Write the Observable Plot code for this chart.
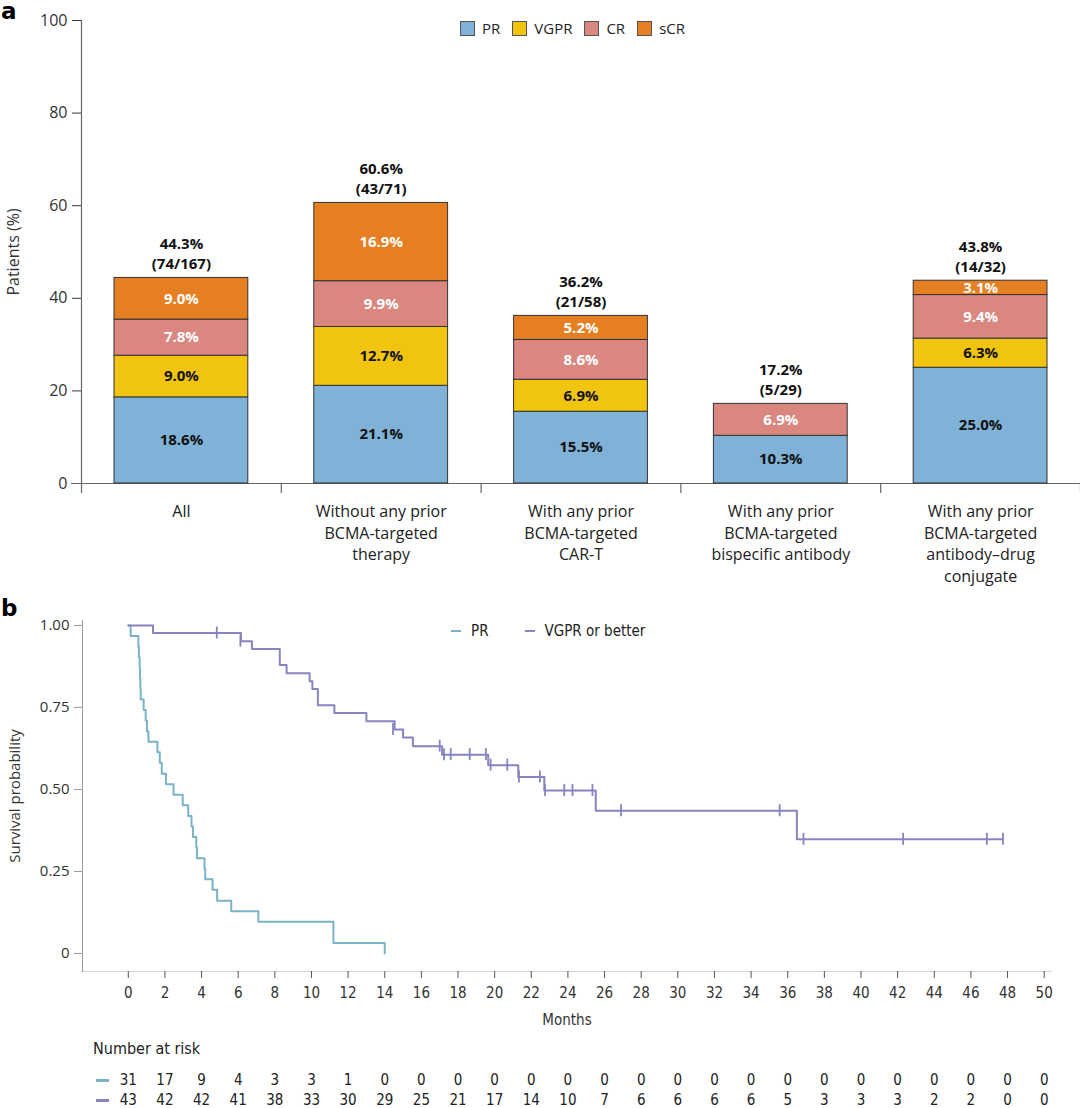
<!DOCTYPE html>
<html><head><meta charset="utf-8">
<script src="https://cdn.jsdelivr.net/npm/d3@7"></script>
<script src="https://cdn.jsdelivr.net/npm/@observablehq/plot@0.6"></script>
<style>
body{margin:0;background:#fff;width:1080px;height:1108px;position:relative;overflow:hidden;font-family:"Open Sans",sans-serif;color:#222;}
.abs{position:absolute;}
.abs svg{display:block;overflow:visible;}
.plab{font-family:"DejaVu Sans",sans-serif;font-weight:bold;font-size:23px;line-height:23px;color:#000;}
.lega{display:flex;align-items:center;font-size:15px;line-height:18px;}
.lega span.sw{display:inline-block;width:13px;height:13px;border:1px solid #555;margin-right:7px;}
.lega span.tx{margin-right:12px;}
.narrow{font-family:"Liberation Sans Narrow","DejaVu Sans Condensed","Roboto Condensed",Roboto,sans-serif;}
.legb{display:flex;align-items:center;font-size:15px;line-height:18px;}
.legb span.ln{display:inline-block;width:10px;height:0;border-top:2px solid;margin-right:10px;}
.legb span.tx{margin-right:36px;}
</style></head><body>
<div class="abs plab" style="left:1px;top:0px">a</div>
<div class="abs plab" style="left:1px;top:597px">b</div>
<div id="a" class="abs" style="left:0;top:0"></div>
<div id="lega" class="abs lega" style="left:460px;top:19px"></div>
<div id="b" class="abs" style="left:0;top:600px"></div>
<div id="legb" class="abs legb narrow" style="left:451px;top:622px"></div>
<div class="abs narrow" style="left:93px;top:1039px;font-size:16px;line-height:20px;">Number at risk</div>
<div class="abs" style="left:96px;top:1079px;width:13px;border-top:3px solid #7ab3c8"></div>
<div class="abs" style="left:96px;top:1099px;width:13px;border-top:3px solid #8884c0"></div>
<div id="risk" class="abs" style="left:0;top:1060px"></div>
<script>
// ---------- Panel a data ----------
const categories = ["All", "Without any prior\nBCMA-targeted\ntherapy", "With any prior\nBCMA-targeted\nCAR-T", "With any prior\nBCMA-targeted\nbispecific antibody", "With any prior\nBCMA-targeted\nantibody–drug\nconjugate"];
const responses = ["PR", "VGPR", "CR", "sCR"];
const prValues = [18.6, 21.1, 15.5, 10.3, 25.0];
const vgprValues = [9.0, 12.7, 6.9, 0, 6.3];
const crValues = [7.8, 9.9, 8.6, 6.9, 9.4];
const scrValues = [9.0, 16.9, 5.2, 0, 3.1];
const totalLabels = ["44.3%\n(74/167)", "60.6%\n(43/71)", "36.2%\n(21/58)", "17.2%\n(5/29)", "43.8%\n(14/32)"];
const responseColors = ["#7fb2d6", "#f1c40f", "#da8780", "#e67e22"];
const patientTicks = [0, 20, 40, 60, 80, 100];

// ---------- Panel b data ----------
const monthTicks = [0,2,4,6,8,10,12,14,16,18,20,22,24,26,28,30,32,34,36,38,40,42,44,46,48,50];
const survTicks = [0, 0.25, 0.5, 0.75, 1];
const groups = ["PR", "VGPR or better"];
const groupColors = ["#7ab3c8", "#8884c0"];
// PR step curve (time in months, survival after step)
const prTimes = [0, 0.13, 0.55, 0.58, 0.62, 0.64, 0.66, 0.68, 0.84, 0.95, 1.02, 1.10, 1.59, 1.72, 1.83, 2.06, 2.47, 2.97, 3.27, 3.45, 3.53, 3.71, 3.75, 4.16, 4.20, 4.60, 4.85, 5.62, 7.10, 11.20, 14.00];
const prSurv  = [1, 0.968, 0.935, 0.903, 0.871, 0.839, 0.806, 0.774, 0.742, 0.710, 0.677, 0.645, 0.613, 0.581, 0.548, 0.516, 0.484, 0.452, 0.419, 0.387, 0.355, 0.323, 0.290, 0.258, 0.226, 0.194, 0.161, 0.129, 0.097, 0.032, 0];
// VGPR or better step curve
const vgprTimes = [0, 1.35, 6.15, 6.75, 8.27, 8.64, 9.90, 10.05, 10.35, 11.25, 13.0, 14.54, 15.0, 15.54, 17.13, 19.65, 21.29, 22.71, 25.52, 36.5, 47.75];
const vgprSurv  = [1, 0.977, 0.952, 0.928, 0.879, 0.854, 0.830, 0.806, 0.757, 0.733, 0.708, 0.683, 0.658, 0.632, 0.606, 0.574, 0.538, 0.497, 0.435, 0.348, 0.348];
// censor marks
const censorTimes = [4.83, 6.12, 14.45, 17.0, 17.24, 17.6, 18.64, 19.52, 19.78, 20.69, 21.33, 22.47, 22.75, 23.8, 24.25, 25.34, 26.9, 35.56, 36.86, 42.3, 46.87, 47.75];
const censorSurv  = [0.977, 0.952, 0.683, 0.632, 0.606, 0.606, 0.606, 0.606, 0.574, 0.574, 0.538, 0.538, 0.497, 0.497, 0.497, 0.497, 0.435, 0.435, 0.348, 0.348, 0.348, 0.348];
// number at risk
const prRisk   = [31,17,9,4,3,3,1,0,0,0,0,0,0,0,0,0,0,0,0,0,0,0,0,0,0,0];
const vgprRisk = [43,42,42,41,38,33,30,29,25,21,17,14,10,7,6,6,6,6,5,3,3,3,2,2,0,0];

// ---------- Panel a ----------
const valueSets = [prValues, vgprValues, crValues, scrValues];
const segments = [];
const totals = [];
categories.forEach((c, i) => {
  let acc = 0;
  valueSets.forEach((vals, k) => {
    const v = vals[i];
    segments.push({i, cx: i + 0.5, x1: i, x2: i + 1, type: responses[k], v, y1: acc, y2: acc + v});
    acc += v;
  });
  totals.push({i, cx: i + 0.5, top: acc, label: totalLabels[i]});
});
const catData = categories.map((c, i) => ({c, cx: i + 0.5}));
const fontA = "'Open Sans', sans-serif";

const plotA = Plot.plot({
  width: 1080, height: 600,
  marginLeft: 81, marginRight: 0, marginTop: 20, marginBottom: 117,
  style: {fontFamily: fontA, fontSize: "16px", color: "#333", background: "transparent"},
  x: {domain: [0, 5], axis: null},
  y: {domain: [0, 100], ticks: patientTicks, tickSize: 9, tickPadding: 5,
      label: "Patients (%)", labelAnchor: "center", labelArrow: "none", labelOffset: 74},
  color: {domain: responses, range: responseColors},
  marks: [
    Plot.ruleY([0], {insetLeft: -10, stroke: "#666", strokeWidth: 1.2}),
    Plot.ruleX([0], {y1: 100, y2: 0, insetBottom: -10, stroke: "#666", strokeWidth: 1.2}),
    Plot.ruleX([1, 2, 3, 4, 5], {y1: 0, y2: 0, insetBottom: -10, stroke: "#666", strokeWidth: 1.2}),
    Plot.rect(segments.filter(d => d.v > 0), {x1: "x1", x2: "x2", y1: "y1", y2: "y2", fill: "type",
      stroke: "#333", strokeWidth: 1, insetLeft: 33, insetRight: 33}),
    Plot.text(segments.filter(d => d.v > 0 && (d.type === "PR" || d.type === "VGPR")), {
      x: "cx", y: d => (d.y1 + d.y2) / 2, text: d => d.v.toFixed(1) + "%",
      fill: "#111", fontWeight: "bold", fontSize: 15}),
    Plot.text(segments.filter(d => d.v > 0 && (d.type === "CR" || d.type === "sCR")), {
      x: "cx", y: d => (d.y1 + d.y2) / 2, text: d => d.v.toFixed(1) + "%",
      fill: "#fff", fontWeight: "bold", fontSize: 15}),
    Plot.text(totals, {x: "cx", y: "top", text: "label", lineAnchor: "bottom", dy: -9,
      fill: "#111", fontWeight: "bold", fontSize: 15, lineHeight: 1.33}),
    Plot.text(catData, {x: "cx", frameAnchor: "bottom", text: "c", lineAnchor: "top", dy: 18,
      fill: "#222", fontSize: 16, lineHeight: 1.36})
  ]
});
document.getElementById("a").appendChild(plotA);

const legA = document.getElementById("lega");
responses.forEach((r, k) => {
  const sw = document.createElement("span"); sw.className = "sw"; sw.style.background = responseColors[k];
  const tx = document.createElement("span"); tx.className = "tx"; tx.textContent = r;
  legA.appendChild(sw); legA.appendChild(tx);
});

// ---------- Panel b ----------
const prPts = prTimes.map((t, i) => ({t, s: prSurv[i]}));
const vgPts = vgprTimes.map((t, i) => ({t, s: vgprSurv[i]}));
const cens = censorTimes.map((t, i) => ({t, s: censorSurv[i]}));
const narrow = "'Liberation Sans Narrow','DejaVu Sans Condensed','Roboto Condensed',Roboto,sans-serif";

const plotB = Plot.plot({
  width: 1080, height: 430,
  marginLeft: 82, marginRight: 29, marginTop: 20, marginBottom: 59,
  style: {fontFamily: fontA, fontSize: "16px", color: "#333", background: "transparent"},
  x: {domain: [-2.5, 50.4]},
  y: {domain: [-0.055, 1.015]},
  marks: [
    Plot.frame({anchor: "bottom", stroke: "#d4d4d4"}),
    Plot.frame({anchor: "left", stroke: "#999"}),
    Plot.axisY({ticks: survTicks, tickFormat: d => d === 0 ? "0" : d.toFixed(2), tickSize: 8, tickPadding: 5,
      stroke: "#999", fontSize: 15, label: "Survival probability", labelAnchor: "center", labelArrow: "none", labelOffset: 73}),
    Plot.axisX({ticks: monthTicks, tickSize: 7, tickPadding: 9, stroke: "#555", fontFamily: narrow, fontSize: 15,
      label: "Months", labelAnchor: "center", labelArrow: "none", labelOffset: 53}),
    Plot.line(prPts, {x: "t", y: "s", curve: "step-after", stroke: groupColors[0], strokeWidth: 2}),
    Plot.line(vgPts, {x: "t", y: "s", curve: "step-after", stroke: groupColors[1], strokeWidth: 2}),
    Plot.ruleX(cens, {x: "t", y1: "s", y2: "s", insetTop: -6, insetBottom: -6, stroke: groupColors[1], strokeWidth: 1.8})
  ]
});
document.getElementById("b").appendChild(plotB);
const legB = document.getElementById("legb");
groups.forEach((g, k) => {
  const ln = document.createElement("span"); ln.className = "ln"; ln.style.borderColor = groupColors[k];
  const tx = document.createElement("span"); tx.className = "tx"; tx.textContent = g;
  legB.appendChild(ln); legB.appendChild(tx);
});

// ---------- number at risk ----------
const riskData = [];
monthTicks.forEach((m, i) => {
  riskData.push({m, g: groups[0], n: prRisk[i]});
  riskData.push({m, g: groups[1], n: vgprRisk[i]});
});
const plotR = Plot.plot({
  width: 1080, height: 48,
  marginLeft: 82, marginRight: 29, marginTop: 0, marginBottom: 0,
  style: {fontFamily: narrow, fontSize: "15px", color: "#222", background: "transparent"},
  x: {domain: [-2.5, 50.4], axis: null},
  y: {type: "point", domain: groups, range: [20, 40], padding: 0, axis: null},
  marks: [
    Plot.text(riskData, {x: "m", y: "g", text: "n", fill: "#222", fontSize: 15})
  ]
});
document.getElementById("risk").appendChild(plotR);
</script>
</body></html>
